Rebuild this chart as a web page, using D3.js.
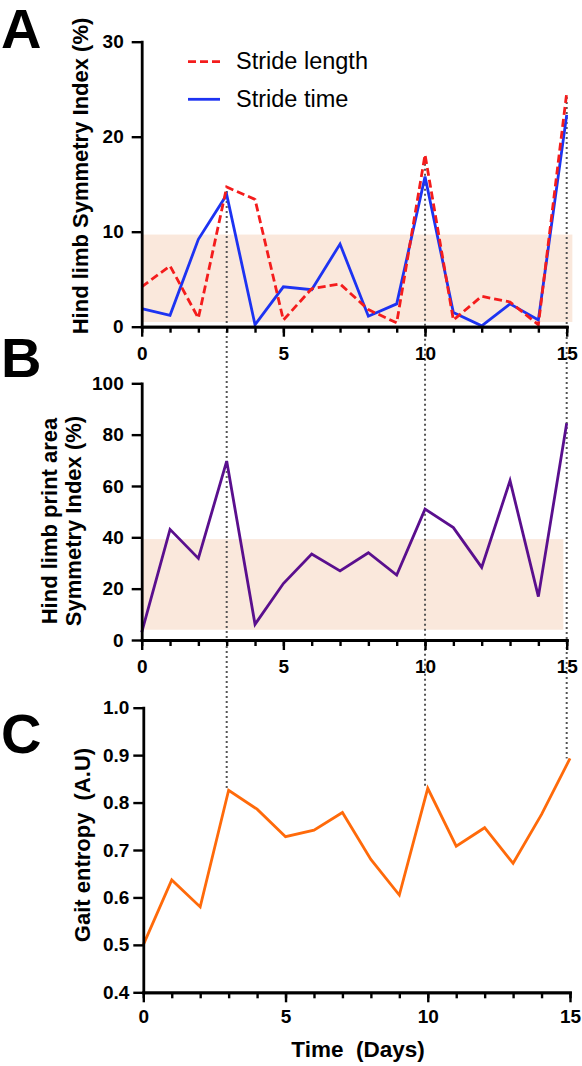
<!DOCTYPE html>
<html>
<head>
<meta charset="utf-8">
<script src="https://cdn.jsdelivr.net/npm/d3@7"></script>
<style>
  html, body { margin: 0; padding: 0; background: #fff; }
  svg { display: block; }
  .tick text { font-family: "Liberation Sans", Arial, sans-serif; font-weight: bold; font-size: 19px; fill: #000; }
</style>
</head>
<body>
<svg id="chart" width="582" height="1066"></svg>
<script>
// ---------- data ----------
const days = [0,1,2,3,4,5,6,7,8,9,10,11,12,13,14,15];
const strideLength = [4.2, 6.4, 0.9, 14.7, 13.4, 0.7, 4.0, 4.5, 1.8, 0.4, 18.1, 0.7, 3.2, 2.6, 0.2, 24.6];
const strideTime   = [1.9, 1.2, 9.2, 13.9, 0.2, 4.2, 3.9, 8.7, 1.1, 2.4, 15.8, 1.5, 0.1, 2.4, 0.7, 22.3];
const printAreaSI  = [3, 43.1, 31.8, 69.7, 6.1, 22, 33.5, 26.9, 34, 25.3, 51, 43.8, 28.3, 62.1, 16.9, 84.4];
const gaitEntropy  = [0.50, 0.637, 0.580, 0.826, 0.786, 0.728, 0.742, 0.779, 0.680, 0.605, 0.830, 0.708, 0.747, 0.672, 0.775, 0.893];
const bandA = [0.5, 9.7];
const bandB = [4, 39.3];
const markedDays = [3, 10, 15];
const xTicks = [0, 5, 10, 15];
const yTicksA = [0, 10, 20, 30];
const yTicksB = [0, 20, 40, 60, 80, 100];
const yTicksC = [0.4, 0.5, 0.6, 0.7, 0.8, 0.9, 1.0];
const legendLabels = ["Stride length", "Stride time"];

// ---------- layout ----------
const svg = d3.select("#chart");
const FONT = '"Liberation Sans", Arial, sans-serif';
const RED = "#f41c1c", BLUE = "#1d33f2", PURPLE = "#5a0f8e", ORANGE = "#ff6a0a", BAND = "#fae8dc";

const xAB = d3.scaleLinear().domain([0, 15]).range([141.7, 566.7]);
const xC  = d3.scaleLinear().domain([0, 15]).range([143.3, 570]);
const yA = d3.scaleLinear().domain([0, 30]).range([326.7, 41.7]);
const yB = d3.scaleLinear().domain([0, 100]).range([640, 383.3]);
const yC = d3.scaleLinear().domain([0.4, 1.0]).range([992.3, 707.7]);

const gBand = svg.append("g");
const gDots = svg.append("g");
const gLines = svg.append("g");
const gAxes = svg.append("g");

// bands
gBand.append("rect")
  .attr("x", xAB(0)).attr("width", xAB(15.2) - xAB(0))
  .attr("y", yA(bandA[1])).attr("height", yA(bandA[0]) - yA(bandA[1]))
  .attr("fill", BAND);
gBand.append("rect")
  .attr("x", xAB(0)).attr("width", xAB(14.88) - xAB(0))
  .attr("y", yB(bandB[1])).attr("height", yB(bandB[0]) - yB(bandB[1]))
  .attr("fill", BAND);

// dotted guide lines
markedDays.forEach(d => {
  const i = days.indexOf(d);
  gDots.append("line")
    .attr("x1", xAB(d)).attr("x2", xAB(d))
    .attr("y1", yA(Math.max(strideLength[i], strideTime[i])) + 4)
    .attr("y2", yC(gaitEntropy[i]))
    .attr("stroke", "#555").attr("stroke-width", 2)
    .attr("stroke-dasharray", "2,3");
});

function drawLine(xs, ys, vals, color, dash) {
  const line = d3.line().x((d, i) => xs(days[i])).y(d => ys(d));
  const p = gLines.append("path").datum(vals)
    .attr("d", line).attr("fill", "none")
    .attr("stroke", color).attr("stroke-width", 2.8)
    .attr("stroke-linejoin", "miter");
  if (dash) p.attr("stroke-dasharray", dash);
}
drawLine(xAB, yA, strideTime, BLUE);
drawLine(xAB, yA, strideLength, RED, "8,4");
drawLine(xAB, yB, printAreaSI, PURPLE);
drawLine(xC, yC, gaitEntropy, ORANGE);

function drawAxes(xs, ys, yTicks, yPad, xPad, yFmt) {
  const y0 = ys.range()[0];
  const x0 = xs.range()[0];
  const minor = gAxes.append("g").attr("transform", `translate(0,${y0})`)
    .call(d3.axisBottom(xs).tickValues(days).tickSize(6).tickSizeOuter(0).tickFormat(""));
  const major = gAxes.append("g").attr("transform", `translate(0,${y0})`)
    .call(d3.axisBottom(xs).tickValues(xTicks).tickSize(10).tickSizeOuter(0).tickPadding(xPad).tickFormat(d3.format("d")));
  const yax = gAxes.append("g").attr("transform", `translate(${x0},0)`)
    .call(d3.axisLeft(ys).tickValues(yTicks).tickSize(10).tickSizeOuter(0).tickPadding(yPad).tickFormat(yFmt));
  [minor, major, yax].forEach(g => {
    g.selectAll("path.domain").attr("stroke", "#000").attr("stroke-width", 2.8).attr("stroke-linecap", "square");
    g.selectAll(".tick line").attr("stroke", "#000").attr("stroke-width", 2.4);
  });
}
drawAxes(xAB, yA, yTicksA, 8, 10, d3.format("d"));
drawAxes(xAB, yB, yTicksB, 8, 10, d3.format("d"));
drawAxes(xC, yC, yTicksC, 4, 7, d3.format(".1f"));

// panel letters
[["A", 48], ["B", 377], ["C", 753]].forEach(([t, y]) => {
  svg.append("text").attr("x", 1).attr("y", y).text(t)
    .attr("font-family", FONT).attr("font-weight", "bold").attr("font-size", 56).attr("fill", "#000");
});

// axis titles
function vTitle(lines, x, y, lh) {
  const t = svg.append("text").attr("transform", `translate(${x},${y}) rotate(-90)`)
    .attr("text-anchor", "middle").attr("font-family", FONT).attr("font-weight", "bold")
    .attr("font-size", 22).attr("fill", "#000").style("white-space", "pre");
  lines.forEach((l, i) => {
    t.append("tspan").attr("x", 0).attr("dy", i === 0 ? 0 : lh).text(l);
  });
}
vTitle(["Hind limb Symmetry Index (%)"], 88, 176, 0);
vTitle(["Hind limb print area", "Symmetry Index (%)"], 57, 521, 24);
vTitle(["Gait entropy  (A.U)"], 90, 845, 0);

svg.append("text").attr("x", 358).attr("y", 1057).attr("text-anchor", "middle")
  .attr("font-family", FONT).attr("font-weight", "bold").attr("font-size", 22.5)
  .style("white-space", "pre")
  .text("Time  (Days)");

// legend
const legend = svg.append("g");
[[RED, "8,4", 61.7, 68.5], [BLUE, null, 99.3, 106.7]].forEach(([c, dash, ly, ty], i) => {
  const l = legend.append("line").attr("x1", 188).attr("x2", 220).attr("y1", ly).attr("y2", ly)
    .attr("stroke", c).attr("stroke-width", 2.8);
  if (dash) l.attr("stroke-dasharray", dash);
  legend.append("text").attr("x", 236).attr("y", ty).text(legendLabels[i])
    .attr("font-family", FONT).attr("font-size", 23.5).attr("fill", "#000");
});
</script>
</body>
</html>
